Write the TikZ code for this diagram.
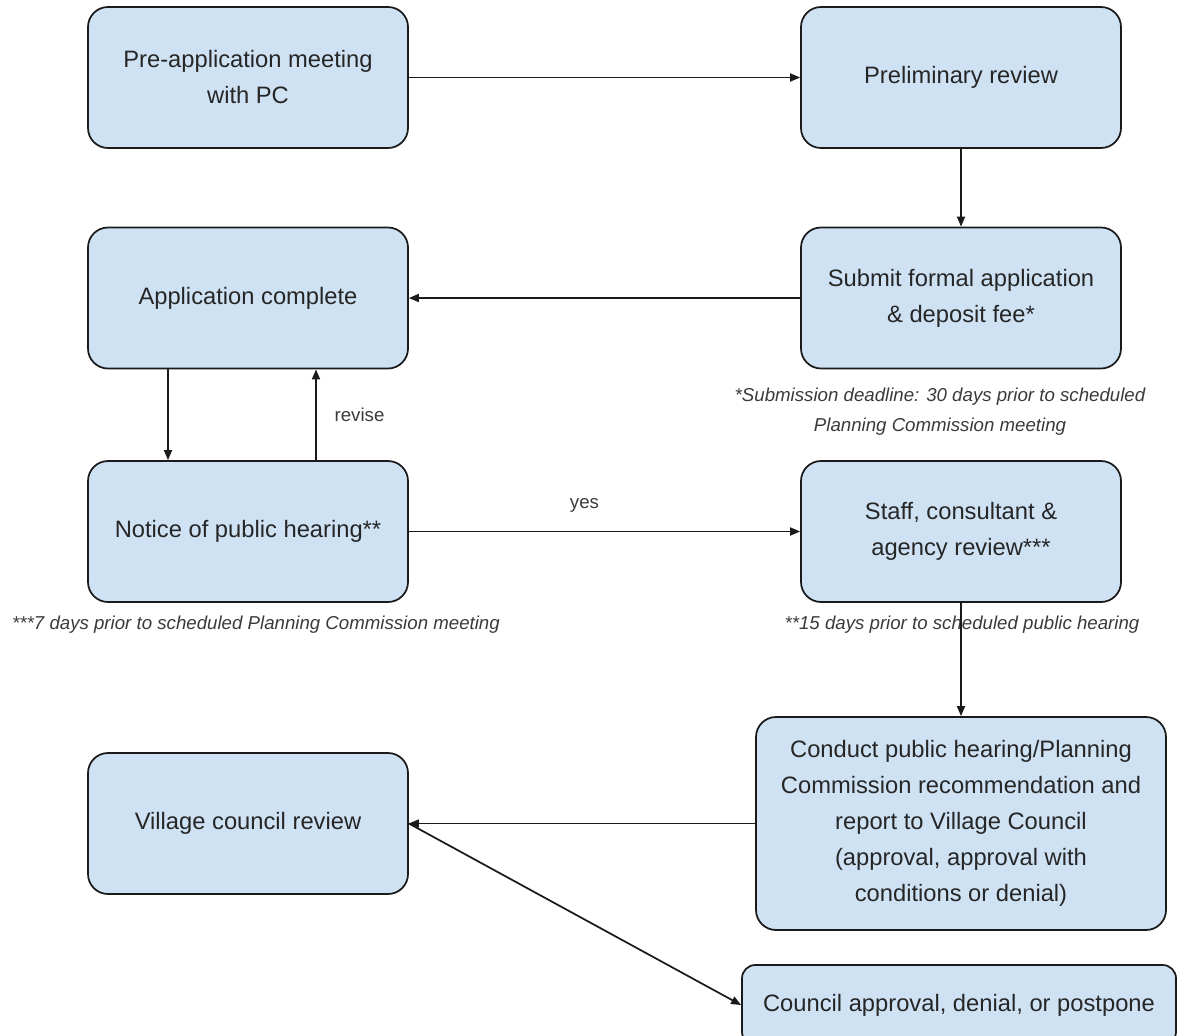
\documentclass[tikz,border=0pt]{standalone}
\usepackage{fontspec}
\setmainfont{Liberation Sans}
\usepackage{xcolor}
\definecolor{boxblue}{HTML}{CFE2F3}
\definecolor{boxline}{HTML}{1A1A1A}
\definecolor{textdark}{HTML}{262626}
\definecolor{notegray}{HTML}{3A3A3A}
\usepackage{tikz}
\usetikzlibrary{positioning, arrows.meta}

\begin{document}
\begin{tikzpicture}[
  x=0.75pt, y=-0.75pt,
  stepbox/.style={
    draw=boxline, fill=boxblue, line width=1.3pt,
    minimum width=240pt, minimum height=105.75pt,
    font=\fontsize{17.8}{27}\selectfont, text=textdark, align=center,
    rounded corners=15pt, inner sep=0pt
  },
  notetext/.style={font=\fontsize{14}{22.5}\selectfont\itshape, text=notegray, align=center},
  flowlabel/.style={font=\fontsize{14}{17}\selectfont, text=notegray},
  arrow/.style={-{Triangle[length=7.5pt, width=6pt]}, line width=1.3pt, boxline}
]
\useasboundingbox (0,0) rectangle (1177,1035);

% ---- COLONNE GAUCHE ----
\node[stepbox] (pre)     at (248, 77.5)  {Pre-application meeting\\with PC};
\node[stepbox] (appc)    at (248, 298)   {Application complete};
\node[stepbox] (notice)  at (248, 531.5) {Notice of public hearing**};
\node[stepbox] (village) at (248, 823.5) {Village council review};

% ---- COLONNE DROITE ----
\node[stepbox] (prelim)  at (961, 77.5)  {Preliminary review};
\node[stepbox] (submit)  at (961, 298)   {Submit formal application\\\& deposit fee*};
\node[stepbox] (staff)   at (961, 531.5) {Staff, consultant \&\\agency review***};
\node[stepbox, minimum width=307.5pt, minimum height=159.75pt]
  (conduct) at (961, 823.5)
  {Conduct public hearing/Planning\\Commission recommendation and\\report to Village Council\\(approval, approval with\\conditions or denial)};
\node[stepbox, minimum width=325.5pt, minimum height=60pt, rounded corners=10pt]
  (council) at (959, 1005) {Council approval, denial, or postpone};

% ---- Notes ----
\node[notetext] (subnote)  at (940, 412) {*Submission deadline: 30 days prior to scheduled\\Planning Commission meeting};
\node[notetext] (pcnote)   at (256, 625) {***7 days prior to scheduled Planning Commission meeting};
\node[notetext] (hearnote) at (962, 625) {**15 days prior to scheduled public hearing};

% ---- Flèches ----
\draw[arrow] (pre.east) -- (prelim.west);
\draw[arrow] (prelim.south) -- (submit.north);
\draw[arrow] (submit.west) -- (appc.east);
\draw[arrow] ([xshift=-60pt]appc.south) -- ([xshift=-60pt]notice.north);
\draw[arrow] ([xshift=51pt]notice.north) -- ([xshift=51pt]appc.south)
  node[midway, right=10pt, flowlabel] (revise) {revise};
\draw[arrow] (notice.east) -- (staff.west)
  node[midway, above=10pt, xshift=-15pt, flowlabel] (yes) {yes};
\draw[arrow] (staff.south) -- (conduct.north);
\draw[arrow] (conduct.west) -- (village.east);
\draw[arrow] (village.east) -- (council.west);

\end{tikzpicture}
\end{document}
